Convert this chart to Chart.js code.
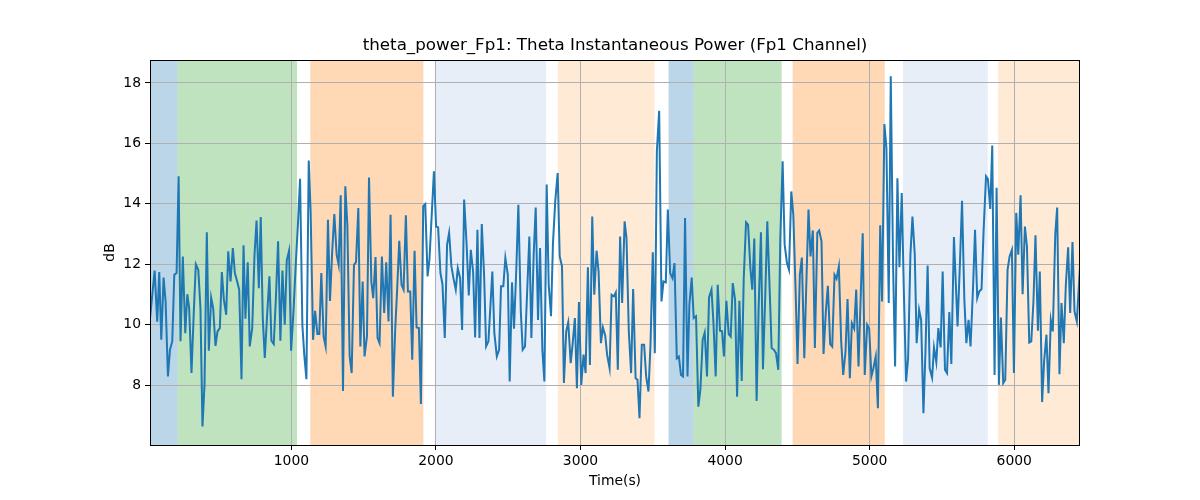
<!DOCTYPE html>
<html>
<head>
<meta charset="utf-8">
<script src="https://cdn.jsdelivr.net/npm/chart.js@4.4.0/dist/chart.umd.min.js"></script>
<style>
  body { margin: 0; background: #fff; }
  #wrap { width: 1200px; height: 500px; }
</style>
</head>
<body>
<div id="wrap"><canvas id="chart" width="1200" height="500"></canvas></div>
<script>
// Theta power samples, time (s) and dB
const times = [
  22, 54, 72, 86, 100, 116, 130, 146, 160, 176, 190, 206, 220, 233, 249, 266, 280, 293, 309, 324,
  339, 356, 371, 385, 399, 415, 429, 445, 459, 475, 489, 505, 519, 533, 549, 563, 579, 595, 609, 624,
  639, 655, 669, 682, 698, 712, 729, 745, 759, 775, 788, 802, 816, 832, 848, 862, 878, 893, 908, 924,
  938, 954, 968, 984, 998, 1014, 1030, 1045, 1060, 1076, 1090, 1104, 1120, 1133, 1150, 1164, 1180, 1193, 1207, 1223,
  1237, 1253, 1267, 1282, 1297, 1313, 1327, 1341, 1357, 1373, 1387, 1403, 1417, 1433, 1447, 1463, 1477, 1493, 1506, 1523,
  1537, 1553, 1566, 1582, 1596, 1610, 1626, 1642, 1656, 1672, 1686, 1702, 1718, 1732, 1746, 1762, 1776, 1792, 1806, 1822,
  1836, 1852, 1866, 1882, 1896, 1912, 1926, 1942, 1955, 1972, 1986, 2001, 2015, 2031, 2045, 2061, 2077, 2091, 2107, 2121,
  2137, 2151, 2167, 2181, 2195, 2211, 2227, 2241, 2257, 2271, 2287, 2301, 2317, 2333, 2347, 2363, 2376, 2390, 2404, 2421,
  2437, 2450, 2466, 2480, 2497, 2510, 2526, 2540, 2556, 2570, 2587, 2600, 2616, 2630, 2646, 2660, 2676, 2690, 2706, 2720,
  2736, 2750, 2766, 2780, 2796, 2809, 2825, 2842, 2856, 2872, 2885, 2901, 2915, 2932, 2945, 2961, 2975, 2989, 3005, 3021,
  3035, 3051, 3065, 3081, 3095, 3111, 3125, 3141, 3155, 3171, 3184, 3201, 3215, 3231, 3244, 3258, 3274, 3288, 3305, 3318,
  3334, 3350, 3364, 3381, 3394, 3408, 3424, 3440, 3454, 3470, 3484, 3500, 3514, 3528, 3544, 3560, 3574, 3590, 3604, 3620,
  3636, 3650, 3666, 3680, 3695, 3709, 3723, 3740, 3753, 3769, 3783, 3799, 3815, 3829, 3845, 3859, 3875, 3889, 3906, 3919,
  3935, 3949, 3965, 3979, 3992, 4009, 4025, 4039, 4053, 4069, 4083, 4099, 4115, 4129, 4145, 4159, 4175, 4188, 4202, 4218,
  4232, 4248, 4262, 4278, 4292, 4308, 4322, 4338, 4352, 4368, 4382, 4398, 4412, 4428, 4442, 4458, 4472, 4488, 4501, 4517,
  4531, 4548, 4561, 4577, 4591, 4607, 4621, 4638, 4651, 4667, 4681, 4697, 4711, 4727, 4741, 4757, 4771, 4787, 4803, 4817,
  4833, 4847, 4863, 4877, 4893, 4907, 4923, 4937, 4952, 4966, 4983, 4997, 5012, 5026, 5042, 5057, 5073, 5086, 5102, 5116,
  5132, 5146, 5162, 5176, 5192, 5206, 5222, 5236, 5252, 5266, 5282, 5296, 5312, 5325, 5342, 5356, 5372, 5386, 5401, 5415,
  5432, 5445, 5461, 5475, 5491, 5505, 5521, 5535, 5551, 5565, 5583, 5608, 5625, 5639, 5655, 5669, 5684, 5698, 5715, 5729,
  5744, 5758, 5774, 5788, 5805, 5818, 5834, 5848, 5864, 5878, 5894, 5908, 5924, 5938, 5954, 5968, 5984, 5998, 6014, 6028,
  6044, 6058, 6074, 6088, 6104, 6118, 6133, 6147, 6164, 6177, 6193, 6207, 6223, 6237, 6253, 6267, 6284, 6297, 6313, 6327,
  6343, 6357, 6373, 6387, 6403, 6417, 6433, 6455
];
const power = [
  10.2, 11.79, 10.1, 11.74, 9.5, 11.56, 10.77, 8.29, 9.17, 9.45, 11.65, 11.71, 14.91, 9.45, 12.26, 9.72, 11.01, 10.55, 8.4, 10.3,
  12.0, 11.82, 10.55, 6.63, 8.01, 13.06, 9.14, 10.9, 10.55, 9.3, 9.78, 9.89, 11.74, 10.83, 10.33, 12.43, 11.43, 12.54, 11.71, 11.45,
  11.16, 8.2, 12.63, 10.2, 12.07, 9.28, 9.89, 12.32, 13.45, 11.21, 13.56, 10.22, 8.9, 10.3, 11.6, 9.47, 9.36, 10.9, 12.76, 9.47,
  11.79, 10.0, 12.13, 12.45, 9.14, 10.4, 11.98, 13.3, 14.83, 9.98, 8.95, 8.2, 15.43, 13.75, 9.5, 10.46, 9.69, 9.69, 11.71, 9.61,
  9.28, 13.47, 10.79, 12.4, 13.66, 12.32, 11.98, 14.28, 7.81, 14.58, 13.31, 8.97, 8.4, 11.98, 12.07, 13.86, 9.28, 11.43, 8.95, 9.63,
  14.87, 11.43, 10.88, 12.24, 9.56, 9.39, 12.26, 10.39, 12.07, 10.11, 13.64, 7.62, 9.83, 11.21, 12.78, 11.32, 11.16, 13.62, 11.1, 11.1,
  8.84, 12.45, 9.91, 9.89, 7.38, 13.92, 13.99, 11.6, 12.15, 13.75, 15.08, 13.25, 13.22, 11.71, 11.34, 9.56, 12.65, 13.04, 11.93, 11.54,
  11.16, 11.87, 11.54, 9.83, 14.14, 12.76, 10.97, 12.48, 11.76, 9.58, 13.14, 9.56, 13.33, 11.65, 9.28, 9.45, 10.55, 11.76, 9.72, 8.95,
  9.17, 11.27, 11.27, 12.21, 11.65, 8.12, 11.4, 9.87, 11.87, 13.97, 10.44, 9.17, 9.28, 10.99, 12.92, 9.56, 12.32, 13.88, 10.16, 12.54,
  9.17, 8.12, 14.64, 11.32, 10.28, 12.65, 14.08, 15.02, 12.26, 11.93, 8.07, 9.78, 10.08, 8.73, 9.34, 10.22, 7.9, 10.75, 8.01, 9.01,
  8.4, 11.9, 8.67, 13.58, 10.99, 12.45, 11.76, 9.39, 9.91, 9.64, 9.0, 8.56, 10.99, 10.94, 11.07, 8.51, 12.92, 10.72, 13.42, 12.87,
  9.78, 8.4, 11.18, 8.23, 8.18, 6.91, 9.34, 9.34, 8.29, 7.79, 9.34, 12.4, 9.06, 15.74, 17.08, 10.77, 11.43, 11.4, 13.81, 11.71,
  11.54, 12.04, 8.89, 8.95, 8.34, 8.29, 13.53, 8.29, 10.66, 11.56, 10.22, 10.28, 7.29, 7.85, 9.5, 9.74, 8.29, 10.9, 11.16, 10.11,
  8.29, 11.32, 9.8, 9.78, 8.95, 10.79, 9.69, 9.61, 11.38, 10.83, 7.62, 10.79, 8.14, 11.54, 13.39, 13.31, 11.87, 11.16, 12.85, 7.48,
  10.55, 13.06, 8.53, 10.99, 13.42, 11.21, 9.23, 9.17, 9.06, 8.51, 12.87, 15.41, 12.65, 12.04, 11.82, 14.41, 13.64, 11.1, 8.7, 11.65,
  12.22, 8.89, 11.21, 13.81, 12.26, 13.12, 9.23, 13.04, 13.12, 12.76, 9.03, 10.44, 11.29, 9.36, 9.28, 11.65, 11.52, 11.93, 9.45, 8.34,
  9.11, 10.85, 8.23, 10.05, 9.87, 11.16, 8.62, 10.77, 13.03, 8.34, 10.0, 9.87, 8.29, 8.56, 8.95, 7.24, 13.29, 10.77, 16.64, 15.85,
  10.72, 18.22, 11.98, 8.62, 14.85, 11.9, 14.36, 11.21, 8.12, 8.89, 12.32, 13.58, 12.32, 9.39, 10.5, 10.16, 7.07, 9.11, 11.96, 8.56,
  8.25, 9.25, 8.76, 9.89, 9.25, 11.76, 8.51, 8.4, 10.42, 8.7, 12.9, 9.94, 12.1, 14.1, 10.83, 9.39, 10.16, 9.28, 11.21, 13.14,
  10.88, 11.1, 11.18, 13.09, 14.91, 14.82, 13.83, 15.93, 8.34, 14.53, 8.01, 10.24, 8.07, 8.18, 11.82, 12.26, 12.48, 8.4, 13.7, 12.32,
  14.28, 11.01, 13.25, 12.59, 9.41, 9.45, 10.77, 12.96, 9.8, 11.76, 7.44, 8.81, 9.67, 7.73, 10.16, 9.78, 13.0, 13.88, 8.36, 10.72,
  9.39, 11.32, 12.56, 10.39, 12.74, 10.44, 10.11, 11.93
];

// shaded phases (start/end in seconds)
const spanStart = [22, 213, 1131, 1992, 2843, 3609, 3782, 4467, 5230, 5888];
const spanEnd   = [213, 1039, 1913, 2762, 3512, 3782, 4391, 5104, 5817, 6455];
const spanKind  = [0, 1, 2, 3, 4, 0, 1, 2, 3, 4];
const kindColors = [
  'rgba(31,119,180,0.3)',
  'rgba(44,160,44,0.3)',
  'rgba(255,127,14,0.3)',
  'rgba(174,199,232,0.3)',
  'rgba(255,187,120,0.3)'
];

const xTicks = [1000, 2000, 3000, 4000, 5000, 6000];
const yTicks = [8, 10, 12, 14, 16, 18];
const titleText = 'theta_power_Fp1: Theta Instantaneous Power (Fp1 Channel)';

const spansPlugin = {
  id: 'spans',
  beforeDraw(chart) {
    const { ctx, chartArea, scales } = chart;
    ctx.save();
    spanStart.forEach((s, i) => {
      const x0 = scales.x.getPixelForValue(s);
      const x1 = scales.x.getPixelForValue(spanEnd[i]);
      ctx.fillStyle = kindColors[spanKind[i]];
      ctx.fillRect(x0, chartArea.top, x1 - x0, chartArea.bottom - chartArea.top);
    });
    ctx.restore();
  },
  afterDraw(chart) {
    const { ctx, chartArea } = chart;
    ctx.save();
    ctx.strokeStyle = '#000';
    ctx.lineWidth = 1;
    ctx.strokeRect(Math.round(chartArea.left) + 0.5, Math.round(chartArea.top) + 0.5,
      Math.round(chartArea.right - chartArea.left) - 1, Math.round(chartArea.bottom - chartArea.top));
    // title centred over the plot area, like matplotlib does
    ctx.fillStyle = '#000';
    ctx.font = "16.7px 'DejaVu Sans', sans-serif";
    ctx.textAlign = 'center';
    ctx.textBaseline = 'middle';
    ctx.fillText(titleText, (chartArea.left + chartArea.right) / 2, 46);
    ctx.restore();
  }
};

Chart.defaults.font.family = "'DejaVu Sans', sans-serif";
Chart.defaults.color = '#000';

const ctx = document.getElementById('chart').getContext('2d');
new Chart(ctx, {
  type: 'line',
  data: {
    datasets: [{
      data: times.map((t, i) => ({ x: t, y: power[i] })),
      borderColor: '#1f77b4',
      borderWidth: 2,
      pointRadius: 0,
      tension: 0,
      fill: false
    }]
  },
  options: {
    responsive: false,
    animation: false,
    devicePixelRatio: 1,
    layout: { padding: { left: 0, right: 120, top: 60, bottom: 0 } },
    plugins: {
      legend: { display: false },
      tooltip: { enabled: false },
      title: { display: false }
    },
    scales: {
      x: {
        type: 'linear',
        min: 22,
        max: 6455,
        afterBuildTicks: s => { s.ticks = xTicks.map(v => ({ value: v })); },
        afterFit: s => { s.height = 55; },
        ticks: { font: { size: 13.9 }, color: '#000', padding: 3, maxRotation: 0, callback: v => String(v) },
        grid: { color: '#b0b0b0', lineWidth: 1, tickColor: '#000', tickLength: 5 },
        border: { display: false },
        title: { display: true, text: 'Time(s)', font: { size: 13.9 }, color: '#000', padding: { top: 0, bottom: 10 } }
      },
      y: {
        type: 'linear',
        min: 6.02,
        max: 18.76,
        afterBuildTicks: s => { s.ticks = yTicks.map(v => ({ value: v })); },
        afterFit: s => { s.width = 150; },
        ticks: { font: { size: 13.9 }, color: '#000', padding: 4, callback: v => String(v) },
        grid: { color: '#b0b0b0', lineWidth: 1, tickColor: '#000', tickLength: 5 },
        border: { display: false },
        title: { display: true, text: 'dB', font: { size: 13.9 }, color: '#000', padding: { top: 102, bottom: 0 } }
      }
    }
  },
  plugins: [spansPlugin]
});
</script>
</body>
</html>
